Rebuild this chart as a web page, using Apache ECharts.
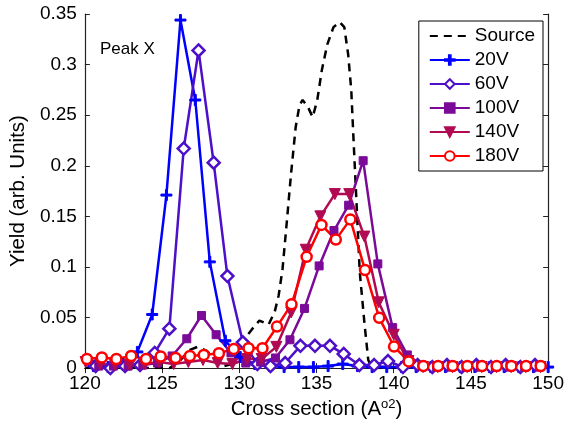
<!DOCTYPE html>
<html>
<head>
<meta charset="utf-8">
<script src="https://cdn.jsdelivr.net/npm/echarts@6/dist/echarts.min.js"></script>
<style>
  html, body { margin: 0; padding: 0; background: #fff; }
  #chart { width: 567px; height: 425px; }
</style>
</head>
<body>
<div id="chart"></div>
<script>
// Cross-section axis ticks
const xTicks = [120, 125, 130, 135, 140, 145, 150];
const yTicks = [0, 0.05, 0.1, 0.15, 0.2, 0.25, 0.3, 0.35];

// Source distribution (dashed)
const xSource = [120, 125.5, 126.2, 126.8, 127.3, 127.9, 128.5, 129.0, 129.5, 130.0, 130.4, 130.8, 131.3, 131.9, 132.3,
  132.55, 132.8, 133.05, 133.35, 133.65, 133.9, 134.1, 134.45, 134.75, 135.05, 135.35, 135.7, 136.1, 136.5,
  136.8, 137.05, 137.25, 137.4, 137.6, 137.8, 138.1, 138.35, 138.6, 150];
const ySource = [0, 0, 0.008, 0.018, 0.021, 0.017, 0.008, 0.002, 0.004, 0.016, 0.03, 0.038, 0.047, 0.043, 0.056,
  0.072, 0.098, 0.14, 0.192, 0.238, 0.26, 0.265, 0.258, 0.248, 0.265, 0.295, 0.32, 0.337, 0.342,
  0.337, 0.31, 0.275, 0.225, 0.16, 0.095, 0.045, 0.008, 0, 0];

// 20V
const x20 = [120.55, 121.5, 122.45, 123.4, 124.36, 125.28, 126.19, 127.15, 128.09, 129.1, 130.06, 131.0, 131.95,
  132.9, 133.85, 134.8, 135.75, 136.7, 137.65, 138.6, 139.55, 140.5, 141.45, 142.4, 143.35, 144.3, 145.25,
  146.2, 147.15, 148.1, 149.05, 150.0];
const y20 = [0.002, 0.001, 0.004, 0.016, 0.053, 0.171, 0.344, 0.265, 0.105, 0.027, 0.011, 0.004, 0.002,
  0.001, 0.001, 0.001, 0.002, 0.004, 0.002, 0.001, 0.001, 0.001, 0.001, 0.001, 0.001, 0.001, 0.001,
  0.001, 0.001, 0.001, 0.001, 0.001];

// 60V
const x60 = [120.7, 121.65, 122.6, 123.57, 124.52, 125.47, 126.4, 127.36, 128.34, 129.23, 130.23, 131.17, 132.02,
  132.97, 133.96, 134.9, 135.87, 136.76, 137.77, 138.73, 139.63, 140.6, 141.55, 142.5, 143.45, 144.4, 145.35,
  146.3, 147.25, 148.2, 149.15];
const y60 = [0.002, 0.0, 0.002, 0.003, 0.015, 0.039, 0.217, 0.314, 0.203, 0.091, 0.0255, 0.004, 0.002,
  0.005, 0.022, 0.022, 0.022, 0.014, 0.003, 0.003, 0.007, 0.001, 0.003, 0.001, 0.003, 0.001, 0.003,
  0.001, 0.003, 0.001, 0.003];

// 100V
const x100 = [120.9, 121.85, 122.8, 123.75, 124.7, 125.65, 126.6, 127.55, 128.5, 129.46, 130.42, 131.38, 132.34,
  133.28, 134.22, 135.17, 136.13, 137.08, 138.02, 138.97, 139.93, 140.88, 141.83, 142.78, 143.73, 144.68,
  145.63, 146.58, 147.53, 148.48, 149.43];
const y100 = [0.002, 0.002, 0.002, 0.003, 0.005, 0.012, 0.029, 0.052, 0.033, 0.015, 0.005, 0.006, 0.010,
  0.028, 0.059, 0.101, 0.136, 0.161, 0.205, 0.103, 0.040, 0.013, 0.003, 0.001, 0.001, 0.001,
  0.001, 0.001, 0.001, 0.001, 0.001];

// 140V
const x140 = [120.05, 121.0, 121.95, 122.9, 123.85, 124.8, 125.75, 126.7, 127.65, 128.6, 129.55, 130.5, 131.45,
  132.4, 133.36, 134.3, 135.25, 136.19, 137.12, 138.1, 139.03, 140.0, 140.95, 141.9, 142.85, 143.8, 144.75,
  145.7, 146.65, 147.6, 148.55, 149.5];
const y140 = [0.006, 0.004, 0.003, 0.003, 0.004, 0.006, 0.004, 0.006, 0.008, 0.005, 0.004, 0.009, 0.009,
  0.021, 0.055, 0.117, 0.150, 0.172, 0.172, 0.130, 0.065, 0.033, 0.007, 0.001, 0.001, 0.001, 0.001,
  0.001, 0.001, 0.001, 0.001, 0.001];

// 180V
const x180 = [120.13, 121.1, 122.04, 123.0, 123.96, 124.91, 125.87, 126.8, 127.7, 128.68, 129.64, 130.6, 131.5,
  132.44, 133.38, 134.36, 135.32, 136.25, 137.19, 138.14, 139.06, 140.02, 140.97, 141.92, 142.87, 143.82,
  144.77, 145.72, 146.67, 147.62, 148.57, 149.52];
const y180 = [0.009, 0.0105, 0.009, 0.012, 0.009, 0.0115, 0.010, 0.012, 0.013, 0.0147, 0.019, 0.0196, 0.0196,
  0.041, 0.063, 0.110, 0.1415, 0.127, 0.147, 0.097, 0.0497, 0.0213, 0.0066, 0.002, 0.002, 0.002,
  0.002, 0.002, 0.002, 0.002, 0.002, 0.002];

const FONT = 'Liberation Sans, Arial, Helvetica, sans-serif';
const zip = (xs, ys) => xs.map((x, i) => [x, ys[i]]);
const PLUS = 'path://M0,4.1H10V5.9H0Z M4.1,0H5.9V10H4.1Z';

function lineSeries(name, xs, ys, color, symbol, size, hollow, extra) {
  return Object.assign({
    name, type: 'line', data: zip(xs, ys),
    symbol, symbolSize: size,
    showSymbol: true,
    lineStyle: { color, width: 2.5 },
    itemStyle: hollow
      ? { color: '#fff', borderColor: color, borderWidth: 2.5 }
      : { color, borderColor: color, borderWidth: 1 },
    emphasis: { disabled: true },
    animation: false
  }, extra || {});
}

const chart = echarts.init(document.getElementById('chart'), null, { renderer: 'canvas' });

const axisCommon = {
  axisLine: { show: true, lineStyle: { color: '#222', width: 1.2 } },
  axisTick: { show: true, inside: true, length: 5, lineStyle: { color: '#222' } },
  splitLine: { show: false }
};

chart.setOption({
  backgroundColor: '#fff',
  animation: false,
  textStyle: { fontFamily: FONT },
  title: {
    text: 'Peak X', left: 95, top: 36,
    textStyle: { fontFamily: FONT, fontSize: 17, fontWeight: 'normal', color: '#000' }
  },
  grid: { left: 79, right: 18, top: 14, bottom: 53 },
  legend: {
    orient: 'vertical', right: 24, top: 21,
    backgroundColor: '#fff', borderColor: '#000', borderWidth: 1,
    padding: [5, 8, 5, 10],
    itemWidth: 40, itemHeight: 12, itemGap: 4,
    textStyle: { fontFamily: FONT, fontSize: 19, color: '#000', lineHeight: 20 },
    data: [
      { name: 'Source', itemStyle: { color: 'rgba(0,0,0,0)', borderWidth: 0, opacity: 0 } },
      '20V', '60V', '100V', '140V', '180V'
    ]
  },
  xAxis: [
    Object.assign({}, axisCommon, {
      type: 'value', position: 'bottom', min: 120, max: 150, interval: 5,
      axisLabel: { fontFamily: FONT, fontSize: 19, color: '#000', margin: 6 },
      name: 'Cross section (A{sup|o2})', nameLocation: 'middle', nameGap: 27,
      nameTextStyle: {
        fontFamily: FONT, fontSize: 20.5, color: '#000',
        rich: { sup: { fontFamily: FONT, fontSize: 13, verticalAlign: 'top', padding: [0, 0, 10, 0] } }
      }
    }),
    Object.assign({}, axisCommon, {
      type: 'value', position: 'top', min: 120, max: 150, interval: 5,
      axisLabel: { show: false }
    })
  ],
  yAxis: [
    Object.assign({}, axisCommon, {
      type: 'value', position: 'left', min: 0, max: 0.35, interval: 0.05,
      axisLabel: { fontFamily: FONT, fontSize: 19, color: '#000', margin: 8 },
      name: 'Yield (arb. Units)', nameLocation: 'middle', nameGap: 46,
      nameTextStyle: { fontFamily: FONT, fontSize: 20.5, color: '#000' }
    }),
    Object.assign({}, axisCommon, {
      type: 'value', position: 'right', min: 0, max: 0.35, interval: 0.05,
      axisLabel: { show: false }
    })
  ],
  series: [
    {
      name: 'Source', type: 'line', data: zip(xSource, ySource),
      showSymbol: false, symbol: 'none',
      lineStyle: { color: '#000', width: 2.5, type: [8, 6] },
      itemStyle: { color: '#000' },
      emphasis: { disabled: true }
    },
    lineSeries('20V', x20, y20, '#0000ff', PLUS, 11, false),
    lineSeries('60V', x60, y60, '#4d10c8', 'diamond', 12, true),
    lineSeries('100V', x100, y100, '#7b0a98', 'rect', 8, false),
    lineSeries('140V', x140, y140, '#b00a52', 'triangle', 11, false, { symbolRotate: 180 }),
    lineSeries('180V', x180, y180, '#ff0000', 'circle', 10, true)
  ]
});
</script>
</body>
</html>
